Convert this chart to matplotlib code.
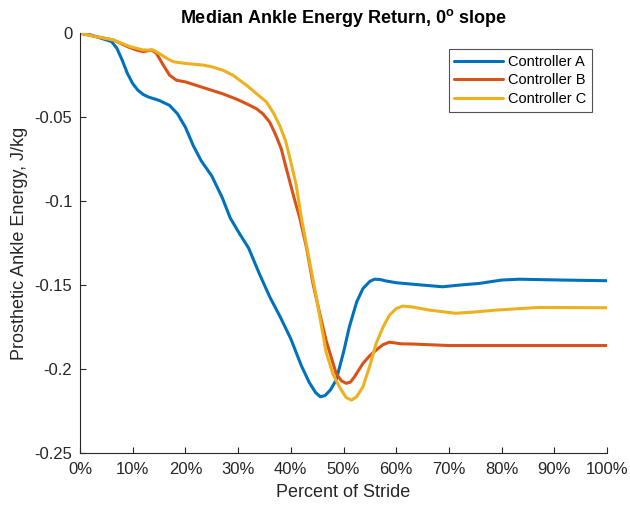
import matplotlib
matplotlib.use("Agg")
import matplotlib.pyplot as plt

plt.rcParams['font.family'] = ['Liberation Sans', 'DejaVu Sans']

a_x = [0, 2, 4, 6, 7, 8, 9, 10, 11, 12, 13, 15, 17, 18.5, 20, 21.5, 23, 25, 27, 28.5, 30, 32, 34, 36, 38, 40,
       42, 43.5, 44.7, 45.6, 46.5, 47.5, 48.6, 50, 51.1, 52.5, 53.7, 55, 55.9, 57, 58, 60, 65, 68.8, 72, 75.8,
       80, 83.3, 91.5, 100]
a_y = [0, -0.001, -0.003, -0.005, -0.009, -0.016, -0.024, -0.030, -0.034, -0.0365, -0.038, -0.040, -0.043,
       -0.048, -0.056, -0.067, -0.076, -0.085, -0.098, -0.110, -0.118, -0.128, -0.143, -0.157, -0.169,
       -0.182, -0.198, -0.208, -0.214, -0.2165, -0.2158, -0.2125, -0.2066, -0.190, -0.175, -0.160, -0.152,
       -0.1478, -0.1465, -0.1467, -0.1475, -0.1486, -0.150, -0.151, -0.150, -0.149, -0.147, -0.1465,
       -0.147, -0.1474]

b_x = [0, 3, 6.3, 9, 10.7, 12, 13.6, 14.5, 15.8, 17, 18.3, 20, 22, 25, 27, 29.5, 31.6, 33.5, 34.7, 36, 37.2,
       38.2, 39.1, 40.7, 41.7, 43, 44.2, 45.5, 46.7, 48.6, 49.6, 50.5, 51.3, 52, 53.7, 55, 56.2, 57.5, 58.7,
       61, 63.1, 70, 80, 90, 100]
b_y = [0, -0.002, -0.004, -0.008, -0.010, -0.011, -0.010, -0.012, -0.019, -0.025, -0.028, -0.029, -0.031,
       -0.034, -0.036, -0.039, -0.042, -0.045, -0.048, -0.053, -0.061, -0.069, -0.080, -0.099, -0.110,
       -0.128, -0.149, -0.167, -0.183, -0.2026, -0.207, -0.2085, -0.2078, -0.205, -0.1966, -0.192, -0.1887,
       -0.1855, -0.184, -0.185, -0.1851, -0.186, -0.186, -0.186, -0.186]

c_x = [0, 3, 6.3, 9.5, 12, 13.9, 15, 16.5, 17.7, 20, 23.4, 25, 27.1, 29, 31.6, 33.5, 35.4, 36.8, 37.9, 39,
       39.8, 41, 42, 43.5, 45, 46.7, 48, 49.2, 50.5, 51.5, 52.5, 53.7, 55, 56.2, 57.5, 58.7, 60, 61.2, 63,
       66.3, 71.3, 75, 78.9, 87.1, 100]
c_y = [0, -0.002, -0.004, -0.008, -0.010, -0.010, -0.012, -0.015, -0.017, -0.018, -0.019, -0.020, -0.022,
       -0.025, -0.031, -0.036, -0.041, -0.048, -0.055, -0.064, -0.074, -0.090, -0.110, -0.135, -0.160,
       -0.190, -0.203, -0.2105, -0.217, -0.2185, -0.2165, -0.2105, -0.198, -0.1847, -0.175, -0.168,
       -0.164, -0.1625, -0.163, -0.1649, -0.1668, -0.166, -0.1649, -0.1633, -0.1635]

labels = ['Controller A', 'Controller B', 'Controller C']
colors = ['#0072BD', '#D95319', '#EDB120']
x_ticks = [0, 10, 20, 30, 40, 50, 60, 70, 80, 90, 100]
x_ticklabels = ['0%', '10%', '20%', '30%', '40%', '50%', '60%', '70%', '80%', '90%', '100%']
y_ticks = [0, -0.05, -0.1, -0.15, -0.2, -0.25]
y_ticklabels = ['0', '-0.05', '-0.1', '-0.15', '-0.2', '-0.25']

fig = plt.figure(figsize=(6.3, 5.11), dpi=100)
ax = fig.add_axes([0.127, 0.1135, 0.8365, 0.8215])

for xs, ys, lab, col in zip([a_x, b_x, c_x], [a_y, b_y, c_y], labels, colors):
    ax.plot(xs, ys, color=col, lw=2.2, label=lab, solid_capstyle='round', solid_joinstyle='round')

ax.set_xlim(0, 100)
ax.set_ylim(-0.25, 0)
ax.set_xticks(x_ticks)
ax.set_xticklabels(x_ticklabels)
ax.set_yticks(y_ticks)
ax.set_yticklabels(y_ticklabels)
ax.spines['top'].set_visible(False)
ax.spines['right'].set_visible(False)
for s in ['left', 'bottom']:
    ax.spines[s].set_color('#262626')
    ax.spines[s].set_linewidth(0.8)
ax.tick_params(direction='in', length=4, width=0.8, colors='#262626', labelsize=12)
ax.tick_params(axis='x', pad=6.5)
ax.tick_params(axis='y', pad=5.5)
ax.set_xlabel('Percent of Stride', fontsize=13, color='#262626', labelpad=5)
ax.set_ylabel('Prosthetic Ankle Energy, J/kg', fontsize=13, color='#262626', labelpad=5)
ax.set_title('Median Ankle Energy Return, 0$^{\\mathregular{o}}$ slope', fontsize=13, fontweight='bold', pad=7)

leg = ax.legend(loc='upper right', bbox_to_anchor=(0.971, 0.962), fontsize=10.5, frameon=True, fancybox=False,
                edgecolor='#262626', handlelength=3.3, handletextpad=0.35, borderpad=0.4, labelspacing=0.3,
                borderaxespad=0)
leg.get_frame().set_linewidth(0.8)

fig.savefig('out.png', dpi=100)
